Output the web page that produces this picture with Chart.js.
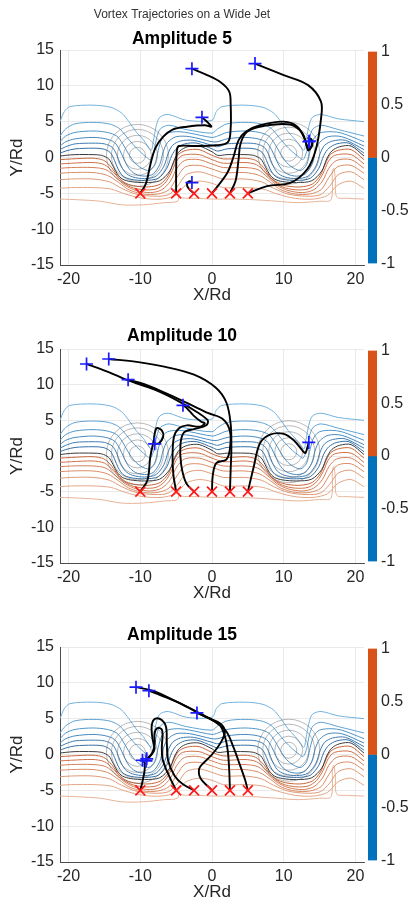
<!DOCTYPE html>
<html><head><meta charset="utf-8">
<script src="https://cdn.jsdelivr.net/npm/chart.js@4.4.1/dist/chart.umd.min.js"></script>
<style>
html,body{margin:0;padding:0;background:#fff;}
#wrap{position:relative;width:412px;height:907px;overflow:hidden;background:#fff;}
canvas{position:absolute;}
</style></head><body>
<div id="wrap">
<canvas id="p1" width="412" height="307" style="left:0;top:0"></canvas>
<canvas id="p2" width="412" height="305" style="left:0;top:300px"></canvas>
<canvas id="p3" width="412" height="304" style="left:0;top:600px"></canvas>
<canvas id="c1" width="44" height="239" style="left:368px;top:38px"></canvas>
<canvas id="c2" width="44" height="238" style="left:368px;top:337px"></canvas>
<canvas id="c3" width="44" height="239" style="left:368px;top:635px"></canvas>
</div>
<script>
// ---------- data ----------
const mainTitle = 'Vortex Trajectories on a Wide Jet';
const panelTitles = ['Amplitude 5', 'Amplitude 10', 'Amplitude 15'];
const xTicks = [-20, -10, 0, 10, 20];
const yTicks = [-15, -10, -5, 0, 5, 10, 15];
const colorbarTicks = [-1, -0.5, 0, 0.5, 1];
const colorbarSegments = [[0, 1], [-1, 0]];
const startPoints = [[-10,-5],[-5,-5],[-2.5,-5],[0,-5],[2.5,-5],[5,-5]];
const vortexCenters = [[-10.4,0.3],[10.7,0.6]];

const contourBlue1 = [[-21.2,5.0],[-20.6,6.4],[-19.8,7.1],[-16.6,7.3],[-14.1,7.0],[-12.6,6.2],[-11.6,5.0],[-10.6,3.6],[-9.6,2.5],[-8.5,1.0],[-8.2,2.2],[-7.8,4.3],[-7.3,5.6],[-6.1,6.0],[-3.6,5.2],[0,5.2],[0.6,6.4],[1.4,7.1],[4.6,7.3],[7.1,7.0],[8.6,6.2],[9.6,5.0],[10.6,3.6],[11.6,2.5],[12.8,1.0],[13.1,2.2],[13.5,4.3],[14.0,5.6],[15.2,6.0],[17.6,5.4],[21.2,5.0]];
const contourBlue2 = [[-21.2,3.0],[-20.4,4.0],[-19.1,4.7],[-16.6,4.9],[-14.4,4.7],[-13.0,4.1],[-12.0,3.0],[-11.0,1.8],[-10.0,0.8],[-9.1,0.0],[-8.6,-0.3],[-8.1,0.8],[-7.7,2.8],[-7.2,4.0],[-6.0,4.5],[-3.6,3.9],[0,3.4],[0.8,4.0],[2.1,4.7],[4.6,4.9],[6.8,4.7],[8.2,4.1],[9.2,3.0],[10.2,1.8],[11.2,0.8],[12.2,0.0],[12.7,-0.3],[13.2,0.8],[13.6,2.8],[14.1,4.0],[15.2,4.5],[17.6,3.9],[21.2,3.0]];
const contourBlue3 = [[-21.2,2.2],[-20.4,3.0],[-19.1,3.5],[-16.6,3.7],[-14.6,3.5],[-13.3,3.0],[-12.5,2.0],[-11.7,0.6],[-10.8,-0.7],[-9.8,-1.5],[-8.8,-1.8],[-8.0,-1.0],[-7.5,1.0],[-7.0,2.6],[-6.2,3.4],[-4.6,3.6],[-3.1,3.4],[0,2.8],[0.8,3.0],[2.1,3.5],[4.6,3.7],[6.6,3.5],[7.9,3.0],[8.7,2.0],[9.5,0.6],[10.4,-0.7],[11.4,-1.5],[12.4,-1.8],[13.2,-1.0],[13.7,1.0],[14.2,2.6],[15.0,3.4],[16.6,3.6],[18.1,3.4],[21.2,2.2]];
const contourBlue4 = [[-21.2,1.6],[-20.4,2.2],[-19.1,2.6],[-16.6,2.8],[-14.8,2.6],[-13.6,2.1],[-12.9,1.1],[-12.3,-0.2],[-11.6,-1.5],[-10.7,-2.3],[-9.4,-2.6],[-8.2,-2.3],[-7.3,-1.0],[-6.8,0.8],[-6.2,2.1],[-5.0,2.9],[-3.1,2.9],[0,2.2],[0.8,2.2],[2.1,2.6],[4.6,2.8],[6.4,2.6],[7.6,2.1],[8.3,1.1],[8.9,-0.2],[9.6,-1.5],[10.5,-2.3],[11.8,-2.6],[13.0,-2.3],[13.9,-1.0],[14.4,0.8],[15.0,2.1],[16.2,2.9],[18.1,2.9],[21.2,1.6]];
const contourBlue5 = [[-21.2,1.1],[-20.4,1.5],[-19.1,1.9],[-16.6,2.0],[-15.0,1.9],[-13.9,1.4],[-13.3,0.4],[-12.8,-0.9],[-12.1,-2.1],[-11.1,-2.7],[-9.4,-2.95],[-7.8,-2.6],[-6.7,-1.2],[-6.1,0.6],[-5.5,1.7],[-4.4,2.3],[-2.6,2.4],[0,1.7],[0.8,1.5],[2.1,1.9],[4.6,2.0],[6.2,1.9],[7.3,1.4],[7.9,0.4],[8.4,-0.9],[9.1,-2.1],[10.1,-2.7],[11.8,-2.95],[13.4,-2.6],[14.5,-1.2],[15.1,0.6],[15.7,1.7],[16.8,2.3],[18.6,2.4],[21.2,1.1]];
const contourBlue6 = [[-21.2,0.6],[-20.4,0.9],[-19.1,1.2],[-16.6,1.3],[-15.2,1.2],[-14.2,0.7],[-13.6,-0.4],[-13.1,-1.6],[-12.4,-2.6],[-11.3,-3.05],[-9.4,-3.2],[-7.5,-2.9],[-6.3,-1.5],[-5.6,0.3],[-4.9,1.3],[-3.8,1.9],[-2.1,2.0],[0,1.2],[0.8,0.9],[2.1,1.2],[4.6,1.3],[6.0,1.2],[7.0,0.7],[7.6,-0.4],[8.1,-1.6],[8.8,-2.6],[9.9,-3.05],[11.8,-3.2],[13.7,-2.9],[14.9,-1.5],[15.6,0.3],[16.3,1.3],[17.4,1.9],[19.1,2.0],[21.2,0.6]];
const contourZero = [[-21.2,0.2],[-20.4,0.3],[-19.1,0.4],[-16.6,0.4],[-15.4,0.3],[-14.4,-0.2],[-13.8,-1.2],[-13.2,-2.3],[-12.5,-3.0],[-11.4,-3.35],[-9.4,-3.5],[-7.3,-3.25],[-5.9,-1.9],[-5.2,-0.2],[-4.5,0.9],[-3.4,1.5],[-1.8,1.6],[0,0.8],[0.8,0.3],[2.1,0.4],[4.6,0.4],[5.8,0.3],[6.8,-0.2],[7.4,-1.2],[8.0,-2.3],[8.7,-3.0],[9.8,-3.35],[11.8,-3.5],[13.9,-3.25],[15.3,-1.9],[16.0,-0.2],[16.7,0.9],[17.8,1.5],[19.4,1.6],[21.2,0.2]];
const contourOrange1 = [[-21.2,-0.3],[-19.6,-0.2],[-16.6,-0.1],[-15.1,-0.4],[-14.0,-1.4],[-13.0,-2.8],[-12.0,-3.6],[-10.6,-4.0],[-8.8,-4.1],[-7.2,-3.7],[-6.1,-2.5],[-5.4,-0.9],[-4.7,0.4],[-3.6,1.0],[-1.8,1.1],[0,0.3],[1.6,-0.2],[4.6,-0.1],[6.1,-0.4],[7.2,-1.4],[8.2,-2.8],[9.2,-3.6],[10.6,-4.0],[12.4,-4.1],[14.0,-3.7],[15.1,-2.5],[15.8,-0.9],[16.5,0.4],[17.6,1.0],[19.4,1.1],[21.2,-0.3]];
const contourOrange2 = [[-21.2,-0.9],[-19.6,-0.8],[-16.6,-0.7],[-15.0,-1.0],[-13.8,-2.0],[-12.6,-3.3],[-11.4,-4.1],[-9.6,-4.5],[-7.8,-4.4],[-6.6,-3.6],[-5.7,-2.2],[-5.0,-0.6],[-4.1,0.3],[-1.8,0.4],[0,-0.3],[1.6,-0.8],[4.6,-0.7],[6.2,-1.0],[7.4,-2.0],[8.6,-3.3],[9.8,-4.1],[11.6,-4.5],[13.4,-4.4],[14.6,-3.6],[15.5,-2.2],[16.2,-0.6],[17.1,0.3],[19.4,0.4],[21.2,-0.9]];
const contourOrange3 = [[-21.2,-1.5],[-19.6,-1.4],[-16.6,-1.4],[-14.8,-1.7],[-13.4,-2.8],[-12.1,-3.9],[-10.6,-4.6],[-8.6,-4.9],[-7.0,-4.5],[-5.8,-3.3],[-4.9,-1.5],[-3.8,-0.4],[-1.8,-0.3],[0,-0.9],[1.6,-1.4],[4.6,-1.4],[6.4,-1.7],[7.8,-2.8],[9.1,-3.9],[10.6,-4.6],[12.6,-4.9],[14.2,-4.5],[15.4,-3.3],[16.3,-1.5],[17.4,-0.4],[19.4,-0.3],[21.2,-1.5]];
const contourOrange4 = [[-21.2,-2.2],[-19.6,-2.1],[-16.6,-2.1],[-14.6,-2.5],[-13.0,-3.5],[-11.6,-4.5],[-9.6,-5.1],[-7.6,-5.1],[-6.0,-4.5],[-4.9,-2.8],[-3.7,-1.3],[-1.8,-1.1],[0,-1.6],[1.6,-2.1],[4.6,-2.1],[6.6,-2.5],[8.2,-3.5],[9.6,-4.5],[11.6,-5.1],[13.6,-5.1],[15.2,-4.5],[16.3,-2.8],[17.5,-1.3],[19.4,-1.1],[21.2,-2.2]];
const contourOrange5 = [[-21.2,-3.1],[-19.6,-3.0],[-16.6,-3.0],[-14.3,-3.4],[-12.6,-4.3],[-10.6,-5.1],[-8.1,-5.4],[-6.1,-5.2],[-4.8,-4.0],[-3.6,-2.4],[-1.8,-2.0],[0,-2.5],[1.6,-3.0],[4.6,-3.0],[6.9,-3.4],[8.6,-4.3],[10.6,-5.1],[13.1,-5.4],[15.1,-5.2],[16.4,-4.0],[17.6,-2.4],[19.4,-2.0],[21.2,-3.1]];
const contourOrange6 = [[-21.2,-4.3],[-19.6,-4.2],[-16.6,-4.2],[-14.1,-4.4],[-12.1,-5.1],[-9.6,-5.7],[-7.1,-5.8],[-5.1,-5.3],[-3.6,-3.8],[-1.8,-3.3],[0,-3.6],[1.6,-4.2],[4.6,-4.2],[7.1,-4.4],[9.1,-5.1],[11.6,-5.7],[14.1,-5.8],[16.1,-5.3],[17.6,-3.8],[19.4,-3.3],[21.2,-4.3]];
const contourOrange7 = [[-21.2,-5.8],[-18.6,-5.9],[-15.6,-6.1],[-12.6,-6.6],[-9.6,-6.6],[-6.6,-6.3],[-4.8,-6.1],[-4.6,-5.1],[-4.4,-5.6],[-2,-5.7],[0,-5.8],[3,-5.8],[6,-5.9],[9,-6.1],[12,-6.3],[15,-6.1],[16.6,-5.9],[16.8,-1.9],[17.0,-1.5],[17.2,-3.0],[17.4,-5.5],[19,-5.7],[21.2,-5.8]];

const tracksAmp5 = [
 [[-10,-5],[-9.2,-3.6],[-8.6,-1.0],[-7.9,1.3],[-6.8,2.9],[-5.5,3.9],[-3.5,4.3],[-1.0,4.5],[-0.1,4.3],[-0.5,4.8],[-1.4,5.6]],
 [[-5,-5],[-5.0,-2.0],[-4.9,1.0],[-4.6,1.6],[-2.5,1.6],[0.5,1.7],[2.2,2.1],[2.6,4.0],[2.6,7.5],[2.4,9.2],[1.2,10.5],[-0.9,11.6],[-2.8,12.4]],
 [[-2.5,-5],[-3.2,-4.4],[-3.5,-3.7],[-3.1,-3.3],[-2.8,-3.5]],
 [[0,-5],[2.1,-2.2],[3.0,0.1],[3.7,2.4],[4.7,3.6],[6.7,4.5],[10,5.0],[11.9,4.3],[13.0,2.4],[13.4,1.0],[13.9,1.6],[13.9,2.5],[13.4,2.7],[13.6,2.3]],
 [[2.5,-5],[3.3,-3.2],[3.7,-0.3],[4.0,2.0],[4.9,3.6],[7.2,4.4],[10.9,4.6],[12.6,3.4],[13.3,1.5],[13.7,1.3],[14.0,2.1],[13.6,2.6],[13.5,2.2]],
 [[5,-5],[7.7,-4.0],[11,-3.5],[13.3,-1.6],[14.5,1.2],[15.2,5.4],[15.2,7.8],[13.4,10.1],[10,11.5],[6.0,13.1]]
];
const tracksAmp10 = [
 [[-10,-5],[-9.0,-3.4],[-8.6,-0.1],[-8.1,2.3],[-8.0,3.1],[-7.7,3.9],[-7.0,3.6],[-6.8,2.7],[-7.4,1.8],[-8.0,1.7]],
 [[-5,-5],[-5.4,-2.5],[-5.5,-0.1],[-5.3,2.7],[-4.6,3.9],[-3.5,4.3],[-1.7,4.1],[-1.0,4.6],[-1.5,4.8],[-2.6,5.7],[-3.5,6.7],[-4.05,7.1]],
 [[-2.5,-5],[-3.6,-3.8],[-4.3,-1.2],[-4.4,1.6],[-3.9,3.3],[-2.4,3.8],[-0.8,4.3],[-0.6,5.0],[-2,6.1],[-4.5,7.6],[-8,9.3],[-11.7,10.6],[-14.5,11.8],[-17.5,12.9]],
 [[0,-5],[0.1,-2.8],[0.6,-1.0],[2.0,-0.5],[2.5,1.0],[2.5,3.5],[1.5,5.2],[-0.5,6.0],[-3,7.2],[-6,8.6],[-9,9.9],[-11.7,10.7]],
 [[2.5,-5],[2.6,-2],[2.7,1],[2.6,4.5],[2.0,7.5],[0.5,9.6],[-2.5,11.4],[-6.5,12.5],[-10.5,13.2],[-14.4,13.6]],
 [[5,-5],[5.8,-1.6],[6.7,1.8],[8.1,3.0],[10,3.1],[11.4,2.2],[12.6,0.8],[13.0,0.4],[13.3,1.2],[13.5,1.9]]
];
const tracksAmp15 = [
 [[-10,-5],[-9.7,-3.8],[-9.4,-2.2],[-9.4,-1.2],[-9.7,-0.8]],
 [[-5,-5],[-5.5,-4.0],[-6.3,-2.3],[-6.9,-0.6],[-7.0,1.0],[-6.9,2.6],[-7.0,3.5],[-7.6,3.7],[-8.0,3.0],[-8.0,1.5],[-8.3,0.3],[-8.9,-0.5],[-9.2,-0.9]],
 [[-2.5,-5],[-4.0,-4.2],[-5.2,-3.0],[-6.1,-0.9],[-6.3,1.5],[-6.4,3.8],[-7.0,4.8],[-7.9,5.0],[-8.4,4.1],[-8.3,2.2],[-8.0,0.8],[-8.5,-0.1],[-9.1,-0.6]],
 [[0,-5],[-1.6,-3.3],[-1.8,-2.0],[-1.2,-1.2],[0,0],[1.3,1.8],[1.8,3.2],[1.2,4.3],[-0.5,5.1],[-2.1,5.8]],
 [[2.5,-5],[2.4,-2.2],[2.2,0.5],[1.8,2.5],[1.0,4.2],[-1,5.3],[-4,6.9],[-6.5,8.0],[-8.8,8.9]],
 [[5,-5],[4.6,-3.5],[3.8,-1.2],[3.0,1.0],[2.0,3.2],[0.5,4.5],[-2,5.9],[-5,7.4],[-8,8.8],[-10.6,9.4]]
];

// ---------- styles ----------
const FONT = '"Liberation Sans", Arial, Helvetica, sans-serif';
const TXT = '#262626';
const GRID = '#e4e4e4';
const AXIS = '#4d4d4d';
const CB_POS = '#D95319';
const CB_NEG = '#0072BD';
const contours = [contourBlue1, contourBlue2, contourBlue3, contourBlue4, contourBlue5, contourBlue6, contourZero,
                  contourOrange1, contourOrange2, contourOrange3, contourOrange4, contourOrange5, contourOrange6, contourOrange7];
const contourColors = ['#72b2de','#5fa4d5','#4f96ca','#4689bf','#3d7cb3','#3670a6','#3a3a3a',
                       '#c9663a','#cf7248','#d57f57','#da8c66','#df9a77','#e3a787','#e7b498'];
const circleRadii = [8, 14, 20, 26, 31];

const toXY = arr => arr.map(p => ({x: p[0], y: p[1]}));

function makePanel(id, tracks, titles){
  const ds = [];
  ds.push({data: toXY(startPoints), showLine:false, pointStyle:'crossRot', pointRadius:7, pointBorderWidth:1.7, borderColor:'#ff1a1a', backgroundColor:'#ff1a1a'});
  ds.push({data: tracks.map(t => ({x:t[t.length-1][0], y:t[t.length-1][1]})), showLine:false, pointStyle:'cross', pointRadius:6.5, pointBorderWidth:1.7, borderColor:'#1a1aff', backgroundColor:'#1a1aff'});
  tracks.forEach(t => ds.push({data: toXY(t), showLine:true, borderColor:'#000', borderWidth:1.9, pointRadius:0, tension:0.35}));
  circleRadii.forEach(r => ds.push({data: toXY(vortexCenters), showLine:false, pointStyle:'circle', pointRadius:r, pointBorderWidth:0.8, borderColor:'rgba(95,95,95,0.55)', backgroundColor:'rgba(0,0,0,0)'}));
  contours.forEach((c,i) => ds.push({data: toXY(c), showLine:true, borderColor:contourColors[i], borderWidth:1, pointRadius:0, tension:0.3}));

  new Chart(document.getElementById(id), {
    type:'scatter',
    data:{datasets: ds},
    options:{
      responsive:false, animation:false, events:[],
      layout:{padding:{left:0, right:48, top:0, bottom:0}},
      plugins:{legend:{display:false}, tooltip:{enabled:false}, title:titles.title, subtitle:titles.subtitle},
      scales:{
        x:{type:'linear', min:-21.2, max:21.2,
           afterFit:s => { s.height = 42; },
           afterBuildTicks:s => { s.ticks = xTicks.map(v => ({value:v})); },
           ticks:{padding:5, color:TXT, font:{family:FONT, size:16}, maxRotation:0, autoSkip:false},
           grid:{color:GRID, lineWidth:0.8, drawTicks:false},
           border:{color:AXIS, width:1},
           title:{display:true, text:'X/Rd', color:TXT, font:{family:FONT, size:17}, padding:{top:0, bottom:1}}},
        y:{type:'linear', min:-15, max:15,
           afterFit:s => { s.width = 60; },
           afterBuildTicks:s => { s.ticks = yTicks.map(v => ({value:v})); },
           ticks:{padding:6, color:TXT, font:{family:FONT, size:16}, autoSkip:false},
           grid:{color:GRID, lineWidth:0.8, drawTicks:false},
           border:{color:AXIS, width:1},
           title:{display:true, text:'Y/Rd', color:TXT, font:{family:FONT, size:17}, padding:{top:7.5, bottom:0}}}
      }
    }
  });
}

function makeColorbar(id){
  new Chart(document.getElementById(id), {
    type:'bar',
    data:{labels:[''], datasets:[
      {data:[colorbarSegments[0]], backgroundColor:CB_POS},
      {data:[colorbarSegments[1]], backgroundColor:CB_NEG}]},
    options:{
      responsive:false, animation:false, events:[],
      layout:{padding:{top:12, bottom:12, left:0, right:0}},
      datasets:{bar:{grouped:false, barPercentage:1, categoryPercentage:1, borderWidth:0}},
      plugins:{legend:{display:false}, tooltip:{enabled:false}},
      scales:{
        x:{display:false},
        y:{position:'right', min:-1, max:1,
           afterFit:s => { s.width = 35; },
           afterBuildTicks:s => { s.ticks = colorbarTicks.map(v => ({value:v})); },
           ticks:{padding:4, color:TXT, font:{family:FONT, size:16}, callback:v => String(v)},
           grid:{display:false, drawTicks:false},
           border:{display:false}}
      }
    }
  });
}

const ampTitle = (text, top, bottom) => ({display:true, text:text, color:'#000', font:{family:FONT, size:17.5, weight:'bold', lineHeight:1.2}, padding:{top:top, bottom:bottom}});

makePanel('p1', tracksAmp5, {
  title:{display:true, text:mainTitle, color:'#333', font:{family:FONT, size:12, weight:'normal', lineHeight:1.2}, padding:{top:7.5, bottom:3.3}},
  subtitle: ampTitle(panelTitles[0], 3.8, 0)
});
makePanel('p2', tracksAmp10, {title: ampTitle(panelTitles[1], 26, 2), subtitle:{display:false}});
makePanel('p3', tracksAmp15, {title: ampTitle(panelTitles[2], 24.5, 1.5), subtitle:{display:false}});
makeColorbar('c1');
makeColorbar('c2');
makeColorbar('c3');
</script>
</body></html>
